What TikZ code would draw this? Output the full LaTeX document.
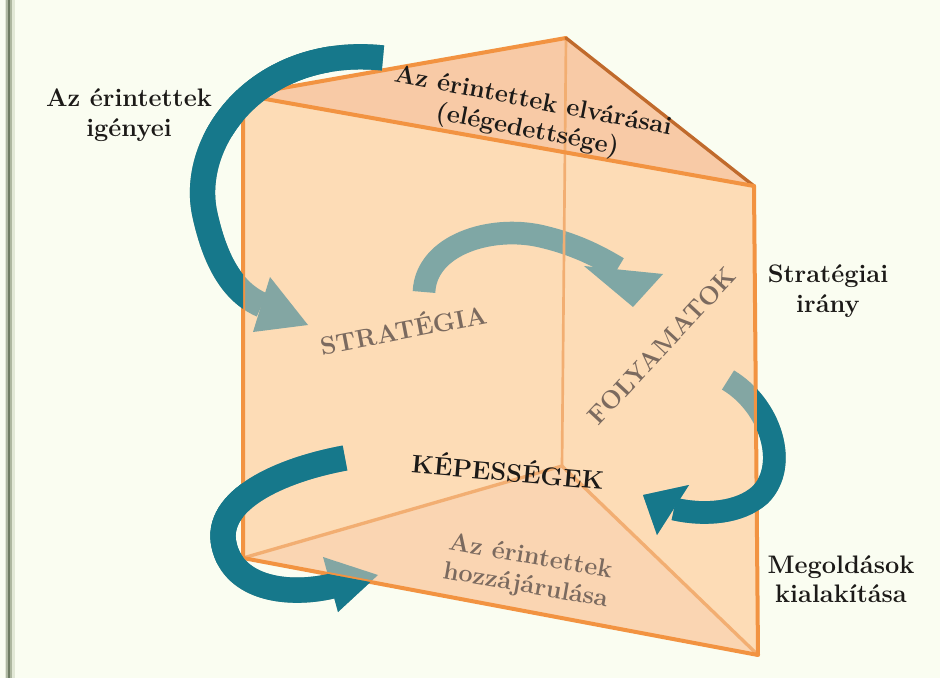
\documentclass[tikz,border=0pt]{standalone}
\usepackage{fontspec}
\definecolor{bgc}{HTML}{FAFDF1}
\definecolor{tealA}{HTML}{16788B}
\definecolor{ghost}{HTML}{83A6A3}
\definecolor{midarr}{HTML}{7FA7A5}
\definecolor{facefront}{HTML}{FDDCB6}
\definecolor{facetop}{HTML}{F8CAA6}
\definecolor{facebot}{HTML}{FAD5B2}
\definecolor{edgeor}{HTML}{F29341}
\definecolor{edgelight}{HTML}{F2AE72}
\definecolor{edgedark}{HTML}{C06A2C}
\definecolor{txtgray}{HTML}{7B6A5F}
\definecolor{txtdark}{HTML}{1C1A18}
\definecolor{bordA}{HTML}{6F7C62}
\definecolor{bordB}{HTML}{AEB7A0}
\definecolor{bordC}{HTML}{E2E8D6}
\newcommand\lblfont{\fontsize{19}{22}\selectfont\bfseries}
\newcommand\pathArrA{(383,58) .. controls (260,45) and (188,140) .. (205,215) .. controls (215,260) and (232,292) .. (262,305)}
\newcommand\headArrA{(270,277) -- (308,325) -- (253,332) -- cycle}
\newcommand\pathArrB{(728,380) .. controls (770,405) and (790,465) .. (760,495) .. controls (740,513) and (705,516) .. (674,509)}
\newcommand\headArrB{(689,485) -- (643,495) -- (657,535) -- cycle}
\newcommand\pathArrC{(345,458) .. controls (280,470) and (214,500) .. (224,545) .. controls (234,590) and (290,596) .. (332,586)}
\newcommand\headArrC{(323,557) -- (378,575) -- (338,612) -- cycle}
\begin{document}
\begin{tikzpicture}[x=0.75pt,y=-0.75pt,
  arrbody/.style={line width=19pt},
  midbody/.style={line width=17pt, midarr},
  lbl/.style={font=\lblfont, align=center, inner sep=0pt},
  edgemain/.style={edgeor, line width=3pt, line join=round, line cap=round},
  edgeinner/.style={edgelight, line width=2pt, line cap=round}]
\useasboundingbox (0,0) rectangle (940,678);
\fill[bgc] (0,0) rectangle (940,678);
% left border
\fill[bordC] (5,0) rectangle (15,678);
\fill[bordB] (6,0) rectangle (12,678);
\fill[bordA] (7.5,0) rectangle (10,678);
% prism faces
\fill[facefront] (243,95) -- (754,186) -- (758,655) -- (243,558) -- cycle;
\fill[facetop] (243,95) -- (566,38) -- (754,186) -- cycle;
\fill[facebot] (243,558) -- (562,466) -- (758,655) -- cycle;
% ghost (behind) arrows
\draw[arrbody, ghost] \pathArrA;
\fill[ghost] \headArrA;
\draw[arrbody, ghost, line width=17pt] \pathArrB;
\fill[ghost] \headArrB;
\draw[arrbody, ghost] \pathArrC;
\fill[ghost] \headArrC;
% middle arrow
\draw[midbody] (424,292) .. controls (426,245) and (490,225) .. (540,236) .. controls (575,244) and (598,256) .. (618,268);
\fill[midarr] (584,266) -- (663,274) -- (633,307) -- cycle;
% edges
\draw[edgeinner] (566,38) -- (562,466);
\draw[edgeinner, line width=2.5pt] (243,558) -- (562,466) -- (758,655);
\draw[edgemain] (243,95) -- (566,38);
\draw[edgedark, line width=2.5pt, line cap=round] (566,38) -- (754,186);
\draw[edgemain] (243,95) -- (754,186);
\draw[edgemain] (243,95) -- (243,558) -- (758,655) -- (754,186);
% front parts of arrows
\begin{scope}
\clip (0,0) -- (400,0) -- (400,123) -- (243,95) -- (243,678) -- (0,678) -- cycle;
\draw[arrbody, tealA] \pathArrA;
\end{scope}
\begin{scope}
\clip (0,0) rectangle (330,135);
\draw[arrbody, tealA] \pathArrA;
\end{scope}
\begin{scope}
\clip (757,0) -- (940,0) -- (940,678) -- (0,678) -- (0,440) -- (757,440) -- cycle;
\draw[arrbody, tealA, line width=17pt] \pathArrB;
\fill[tealA] \headArrB;
\end{scope}
\begin{scope}
\clip (0,0) -- (700,0) -- (700,426) -- (243,558) -- (0,628) -- cycle;
\draw[arrbody, tealA] \pathArrC;
\fill[tealA] \headArrC;
\end{scope}
\begin{scope}
\clip (0,678) -- (0,300) -- (243,300) -- (243,558) -- (758,655) -- (758,678) -- cycle;
\draw[arrbody, tealA] \pathArrC;
\fill[tealA] \headArrC;
\end{scope}
% labels
\node[lbl, txtdark] (lt) at (129,115) {Az érintettek\\igényei};
\node[lbl, txtdark, rotate=-11] (tt) at (530,117) {Az érintettek elvárásai\\(elégedettsége)};
\node[lbl, txtgray, rotate=11] (st) at (403,328) {STRATÉGIA};
\node[lbl, txtgray, rotate=47] (fo) at (662,346) {FOLYAMATOK};
\node[lbl, txtdark, rotate=-5] (ke) at (508,470) {KÉPESSÉGEK};
\node[lbl, txtgray, rotate=-10] (hz) at (528,572) {Az érintettek\\hozzájárulása};
\node[lbl, txtdark] (si) at (828,291) {Stratégiai\\irány};
\node[lbl, txtdark] (mk) at (841,579) {Megoldások\\kialakítása};
\end{tikzpicture}
\end{document}
